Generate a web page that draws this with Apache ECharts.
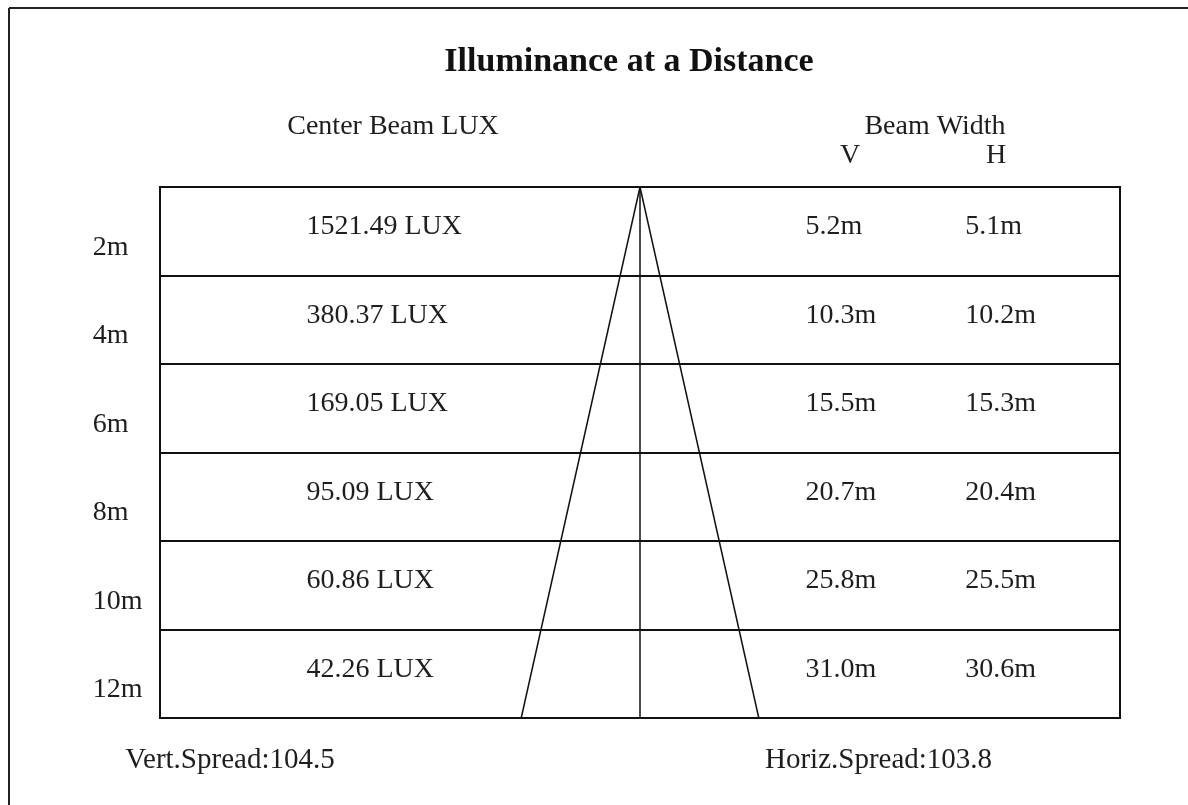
<!DOCTYPE html>
<html>
<head>
<meta charset="utf-8">
<script src="https://cdn.jsdelivr.net/npm/echarts@6/dist/echarts.min.js"></script>
<style>
html,body{margin:0;padding:0;background:#fff;}
#chart{width:1188px;height:805px;}
</style>
</head>
<body>
<div id="chart"></div>
<script>
// ---- data ----
const distanceLabels = ['2m', '4m', '6m', '8m', '10m', '12m'];
const distanceValues = [2, 4, 6, 8, 10, 12];
const centerBeamLux = [1521.49, 380.37, 169.05, 95.09, 60.86, 42.26];
const beamWidthV = [5.2, 10.3, 15.5, 20.7, 25.8, 31.0];
const beamWidthH = [5.1, 10.2, 15.3, 20.4, 25.5, 30.6];
const vertSpread = 104.5;
const horizSpread = 103.8;
const coneLeft = [[0, 0], [-0.99, 12]];
const coneRight = [[0, 0], [0.99, 12]];

// ---- layout ----
const FONT = '"Liberation Serif", "Times New Roman", serif';
const TXT = '#1e1e1e';
const FS = 28;
const colRowLabel = -4.56, colLux = -2.78, colV = 1.38, colH = 2.71;
const offValue = 0.9, offRowLabel = 1.37;

function textSeries(name, points, labels) {
  return {
    name: name,
    type: 'scatter',
    symbolSize: 0,
    clip: false,
    silent: true,
    itemStyle: { opacity: 1 },
    data: points.map((p, i) => ({ value: p, label: { formatter: labels[i] } })),
    label: {
      show: true, position: 'right', distance: 0,
      fontFamily: FONT, fontSize: FS, color: TXT,
      align: 'left', verticalAlign: 'middle'
    },
    z: 5
  };
}

const luxPts = distanceValues.map(d => [colLux, d - 2 + offValue]);
const vPts = distanceValues.map(d => [colV, d - 2 + offValue]);
const hPts = distanceValues.map(d => [colH, d - 2 + offValue]);
const rowPts = distanceValues.map(d => [colRowLabel, d - 2 + offRowLabel]);

const chart = echarts.init(document.getElementById('chart'), null, { renderer: 'canvas' });
function txt(text, x, y, opts) {
  opts = opts || {};
  return {
    type: 'text', x: x, y: y, silent: true,
    style: {
      text: text, fontFamily: FONT, fontSize: opts.size || FS, fontWeight: opts.weight || 'normal',
      fill: opts.fill || TXT, align: opts.align || 'center', verticalAlign: 'middle'
    }
  };
}

chart.setOption({
  animation: false,
  backgroundColor: '#fff',
  grid: {
    left: 160, top: 187, width: 960, height: 531,
    show: true, borderColor: '#111', borderWidth: 2, backgroundColor: 'transparent'
  },
  xAxis: {
    type: 'value', min: -4, max: 4, interval: 4,
    axisLine: { show: false }, axisTick: { show: false }, axisLabel: { show: false },
    splitLine: { show: true, lineStyle: { color: '#111', width: 1.5, type: 'solid' } }
  },
  yAxis: {
    type: 'value', min: 0, max: 12, interval: 2, inverse: true,
    axisLine: { show: false }, axisTick: { show: false }, axisLabel: { show: false },
    splitLine: { show: true, lineStyle: { color: '#111', width: 2, type: 'solid' } }
  },
  graphic: [
    { type: 'line', silent: true, shape: { x1: 9, y1: 8, x2: 1188, y2: 8 }, style: { stroke: '#222', lineWidth: 2 } },
    { type: 'line', silent: true, shape: { x1: 9, y1: 8, x2: 9, y2: 805 }, style: { stroke: '#222', lineWidth: 2 } },
    txt('Illuminance at a Distance', 629, 62, { size: 34, weight: 'bold', fill: '#111' }),
    txt('Center Beam LUX', 393, 127),
    txt('Beam Width', 935, 127),
    txt('V', 850, 156),
    txt('H', 996, 156),
    txt('Vert.Spread:' + vertSpread.toFixed(1), 230, 760, { size: 29 }),
    txt('Horiz.Spread:' + horizSpread.toFixed(1), 765, 760, { size: 29, align: 'left' })
  ],
  series: [
    { type: 'line', data: coneLeft, symbol: 'none', silent: true, lineStyle: { color: '#111', width: 1.5 } },
    { type: 'line', data: coneRight, symbol: 'none', silent: true, lineStyle: { color: '#111', width: 1.5 } },
    textSeries('lux', luxPts, centerBeamLux.map(v => v.toFixed(2) + ' LUX')),
    textSeries('v', vPts, beamWidthV.map(v => v.toFixed(1) + 'm')),
    textSeries('h', hPts, beamWidthH.map(v => v.toFixed(1) + 'm')),
    textSeries('dist', rowPts, distanceLabels)
  ]
});
</script>
</body>
</html>
